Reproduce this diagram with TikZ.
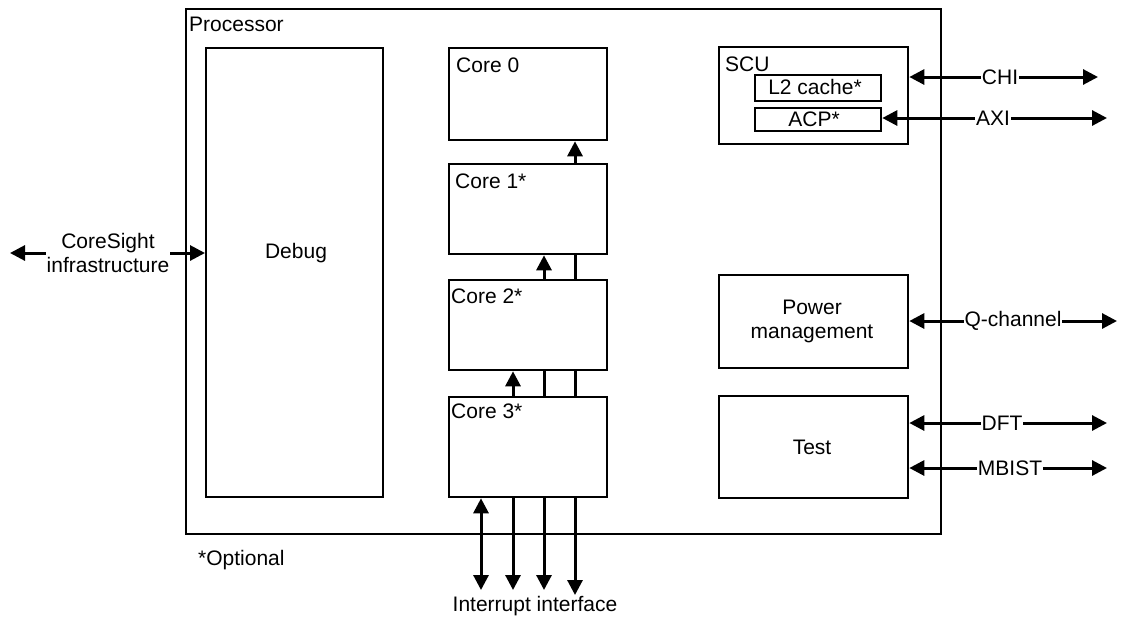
\documentclass[tikz,border=0pt]{standalone}
\usepackage{fontspec}
\setmainfont{Liberation Sans}
\usetikzlibrary{arrows.meta}
\pgfdeclarelayer{bg}
\pgfsetlayers{bg,main}
\begin{document}
\begin{tikzpicture}[x=1pt,y=-1pt,
  font=\fontsize{21}{24}\selectfont,
  box/.style={draw=black, line width=2.3pt, fill=white, inner sep=0pt, anchor=north west},
  txt/.style={inner sep=0pt},
  arr/.style={line width=3pt, {Triangle[length=15pt,width=15pt]}-{Triangle[length=15pt,width=15pt]}},
  lbl/.style={fill=white, inner sep=1pt}
]
\useasboundingbox (0,0) rectangle (1123,619);
% boxes
\node[box, minimum width=755pt, minimum height=525pt, fill=none] (proc) at (185,8) {};
\node[txt, anchor=base west] (proct) at (189,31) {Processor};
\node[box, minimum width=177pt, minimum height=449pt] (debug) at (205,47) {};
\node[txt] (debugt) at (296,253) {Debug};

\node[box, minimum width=158pt, minimum height=92pt] (core0) at (448,47) {};
\node[box, minimum width=158pt, minimum height=90pt] (core1) at (448,163) {};
\node[box, minimum width=158pt, minimum height=90pt] (core2) at (448,279) {};
\node[box, minimum width=158pt, minimum height=100pt] (core3) at (448,396) {};
\node[txt, anchor=base west] (c0t) at (456,72) {Core 0};
\node[txt, anchor=base west] (c1t) at (455,188) {Core 1*};
\node[txt, anchor=base west] (c2t) at (451,303) {Core 2*};
\node[txt, anchor=base west] (c3t) at (451,418) {Core 3*};

\node[box, minimum width=189pt, minimum height=97pt] (scu) at (718,46) {};
\node[txt, anchor=base west] (scut) at (725,71) {SCU};
\node[box, minimum width=126pt, minimum height=26pt] (l2) at (754,74) {};
\node[txt] (l2t) at (815,87) {L2 cache*};
\node[box, minimum width=126pt, minimum height=23pt] (acp) at (754,107) {};
\node[txt] (acpt) at (814,119) {ACP*};

\node[box, minimum width=189pt, minimum height=93pt] (pm) at (718,274) {};
\node[txt, align=center] (pmt) at (812,321) {Power\\management};
\node[box, minimum width=189pt, minimum height=102pt] (test) at (718,395) {};
\node[txt] (testt) at (812,447) {Test};

\node[txt, anchor=base west] (opt) at (198,565) {*Optional};
\node[txt] (intt) at (535,606) {Interrupt interface};

% free ends
\coordinate (cL) at (10,253);
\coordinate (chiR) at (1098,77);
\coordinate (axiR) at (1107,118);
\coordinate (qR) at (1117,321);
\coordinate (dftR) at (1107,423);
\coordinate (mbR) at (1107,468);
\coordinate (i1) at (481,590);
\coordinate (i2) at (513,590);
\coordinate (i3) at (544,590);
\coordinate (i4) at (575,595);

\begin{pgfonlayer}{bg}
\draw[arr] (i1) -- (i1 |- core3.south);
\draw[arr] (i2) -- (i2 |- core2.south);
\draw[arr] (i3) -- (i3 |- core1.south);
\draw[arr] (i4) -- (i4 |- core0.south);
\end{pgfonlayer}

% external connectors
\draw[arr] (debug.west |- cL) -- (cL);
\node[lbl, align=center, font=\fontsize{21}{24}\selectfont] (cs) at (108,253) {CoreSight\\infrastructure};
\draw[arr] (scu.east |- chiR) -- (chiR);
\node[lbl] (chil) at (1000,77) {CHI};
\draw[arr] (acp.east |- axiR) -- (axiR);
\node[lbl] (axil) at (993,118) {AXI};
\draw[arr] (pm.east |- qR) -- (qR);
\node[lbl] (ql) at (1013,321) {Q-channel};
\draw[arr] (test.east |- dftR) -- (dftR);
\node[lbl] (dftl) at (1002,423) {DFT};
\draw[arr] (test.east |- mbR) -- (mbR);
\node[lbl] (mbl) at (1010,468) {MBIST};
\end{tikzpicture}
\end{document}
